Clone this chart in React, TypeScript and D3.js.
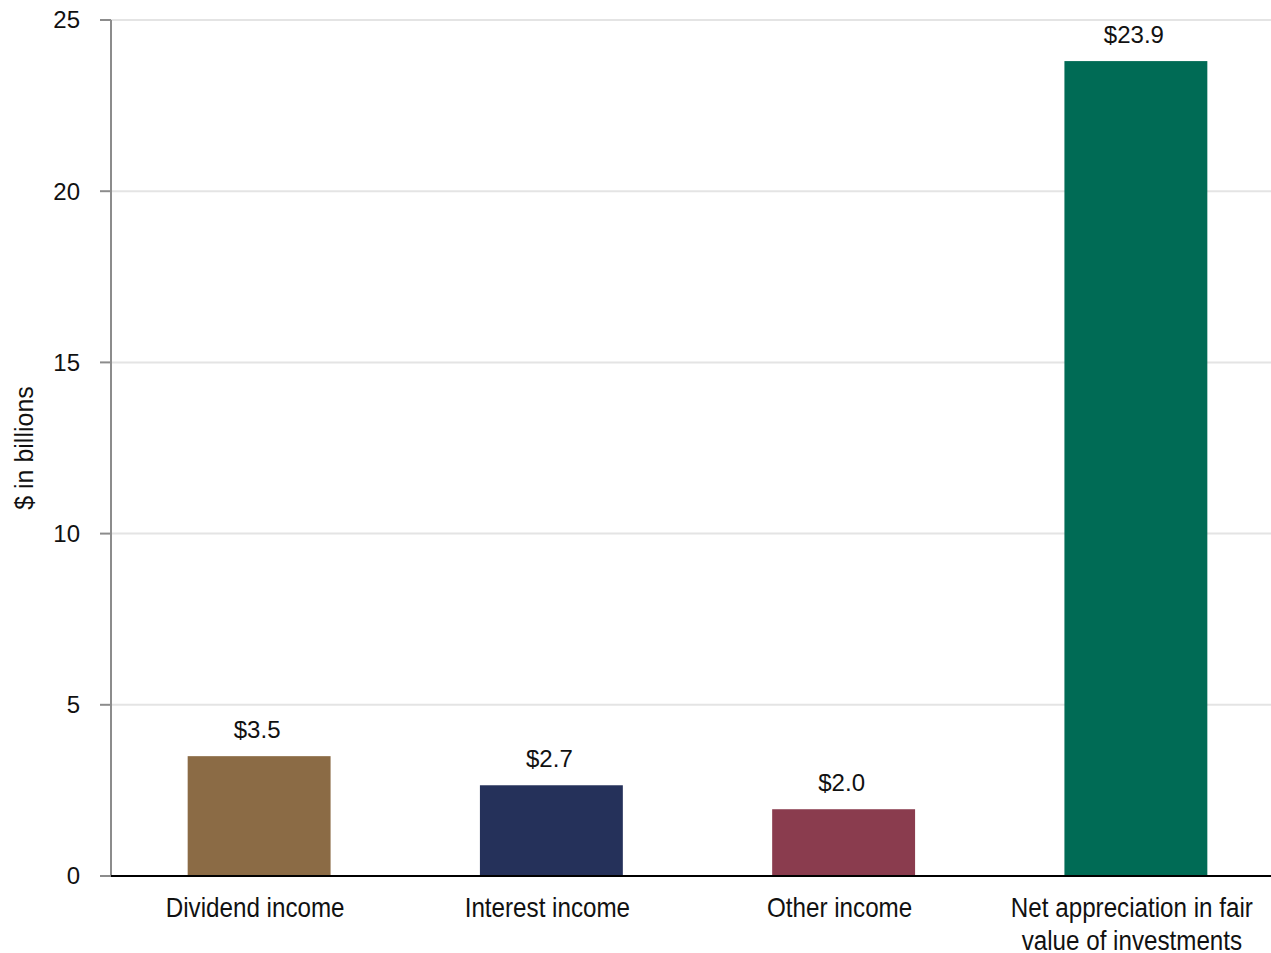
import React from "react";
import * as d3 from "d3";

const categories: string[][] = [
  ["Dividend income"],
  ["Interest income"],
  ["Other income"],
  ["Net appreciation in fair", "value of investments"],
];
const values: number[] = [3.5, 2.65, 1.95, 23.8];
const valueLabels: string[] = ["$3.5", "$2.7", "$2.0", "$23.9"];
const colors: string[] = ["#8b6b45", "#25315a", "#8a3c4e", "#006b55"];
const yTicks: number[] = [0, 5, 10, 15, 20, 25];
const yTitle = "$ in billions";

const W = 1271;
const H = 953;
const left = 111;
const right = 1271;
const top = 20;
const bottom = 876;

export default function App() {
  const y = d3.scaleLinear().domain([0, 25]).range([bottom, top]);
  const x = d3
    .scaleBand<number>()
    .domain(d3.range(values.length))
    .range([113, 1282])
    .paddingInner(0.511)
    .paddingOuter(0.2555);
  const arial = "'Liberation Sans', Arial, sans-serif";
  const squeeze = 0.88;
  return (
    <svg
      width={W}
      height={H}
      style={{ position: "absolute", left: 0, top: 0, background: "#fff" }}
    >
      {yTicks.map((t) => (
        <g key={t}>
          {t > 0 && (
            <line x1={left} x2={right} y1={y(t)} y2={y(t)} stroke="#e4e4e4" strokeWidth={2} />
          )}
          <line x1={100} x2={left} y1={y(t)} y2={y(t)} stroke="#8c8c8c" strokeWidth={2} />
          <text
            x={80}
            y={y(t)}
            dy="0.35em"
            textAnchor="end"
            fontFamily={arial}
            fontSize={24}
            fill="#111"
          >
            {t}
          </text>
        </g>
      ))}
      <line x1={left} x2={left} y1={top} y2={bottom} stroke="#8c8c8c" strokeWidth={2} />
      {values.map((v, i) => {
        const cx = (x(i) as number) + x.bandwidth() / 2;
        return (
          <g key={i}>
            <rect
              x={x(i)}
              y={y(v)}
              width={x.bandwidth()}
              height={bottom - y(v)}
              fill={colors[i]}
            />
            <text
              x={cx - 2}
              y={y(v) - 18}
              textAnchor="middle"
              fontFamily={arial}
              fontSize={24}
              fill="#111"
            >
              {valueLabels[i]}
            </text>
            {categories[i].map((line, j) => (
              <text
                key={j}
                transform={`translate(${cx - 4}, ${917 + j * 33}) scale(${squeeze}, 1)`}
                textAnchor="middle"
                fontFamily={arial}
                fontSize={27.5}
                fill="#111"
              >
                {line}
              </text>
            ))}
          </g>
        );
      })}
      <line x1={left} x2={right} y1={bottom} y2={bottom} stroke="#000" strokeWidth={2} />
      <text
        transform={`translate(33, 448) rotate(-90)`}
        textAnchor="middle"
        fontFamily={arial}
        fontSize={25}
        fill="#111"
      >
        {yTitle}
      </text>
    </svg>
  );
}
